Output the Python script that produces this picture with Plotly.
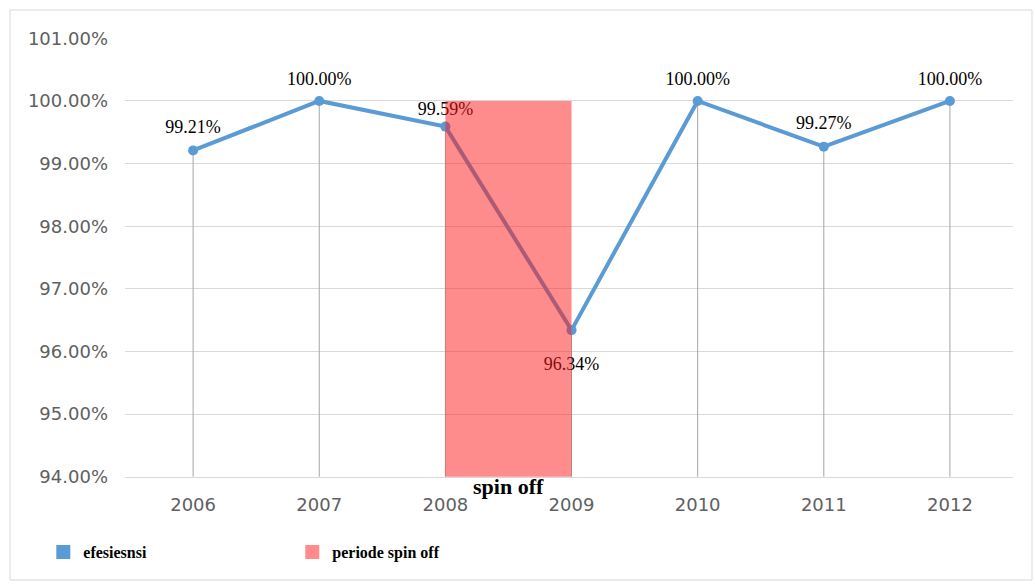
import plotly.graph_objects as go

years = ["2006", "2007", "2008", "2009", "2010", "2011", "2012"]
efisiensi = [0.9921, 1.0000, 0.9959, 0.9634, 1.0000, 0.9927, 1.0000]
label_pos = ["top center", "top center", "top center", "bottom center",
             "top center", "top center", "top center"]
spin_off_start = "2008"
spin_off_end = "2009"
spin_off_top = 1.00
y_min, y_max = 0.94, 1.01

series_name = "efesiesnsi"
period_name = "periode spin off"
period_label = "spin off"

BLUE = "#5B9BD5"
PINK = "#FF8C8C"
GRID = "#D9D9D9"
# invisible marker sizes that set each label's distance from its point
label_gap = [19, 17, 10, 40, 17, 20, 17]

fig = go.Figure()

# drop lines from each point to the axis
dx, dy = [], []
for yr, v in zip(years, efisiensi):
    dx += [yr, yr, None]
    dy += [v, y_min, None]
fig.add_trace(go.Scatter(x=dx, y=dy, mode="lines",
                         line=dict(color="#A6A6A6", width=1),
                         showlegend=False, hoverinfo="skip"))

# data labels (drawn beneath the line)
fig.add_trace(go.Scatter(
    x=years, y=efisiensi, mode="markers+text",
    marker=dict(size=label_gap, color="rgba(0,0,0,0)", opacity=0,
                line=dict(width=0)),
    text=[f"{v*100:.2f}%" for v in efisiensi],
    textposition=label_pos,
    textfont=dict(family="Liberation Serif", size=18, color="#000000"),
    showlegend=False, cliponaxis=False, hoverinfo="skip"))

fig.add_trace(go.Scatter(
    x=years, y=efisiensi, mode="lines+markers",
    line=dict(color=BLUE, width=4),
    marker=dict(color=BLUE, size=10, line=dict(width=0)),
    showlegend=False))

# legend entries
fig.add_trace(go.Scatter(x=[None], y=[None], mode="markers", name=series_name,
                         marker=dict(symbol="square", size=14, color=BLUE)))
fig.add_trace(go.Scatter(x=[None], y=[None], mode="markers", name=period_name,
                         marker=dict(symbol="square", size=14, color=PINK)))

i0 = years.index(spin_off_start)
i1 = years.index(spin_off_end)
fig.add_shape(type="rect", xref="x", yref="y", x0=i0, x1=i1,
              y0=y_min, y1=spin_off_top, layer="above",
              fillcolor="rgba(255,25,25,0.5)", line=dict(width=0))

fig.add_annotation(x=(i0 + i1) / 2, xref="x", y=-0.022, yref="paper",
                   text=f"<b>{period_label}</b>", showarrow=False,
                   font=dict(family="Liberation Serif", size=22, color="#000000"),
                   yanchor="middle")

# outer border
fig.add_shape(type="rect", xref="paper", yref="paper",
              x0=-0.1295, x1=1.0214, y0=-0.2346, y1=1.0638,
              line=dict(color=GRID, width=1), fillcolor="rgba(0,0,0,0)",
              layer="below")

fig.update_layout(
    width=1035, height=584,
    margin=dict(l=125, r=22, t=38, b=107),
    paper_bgcolor="white", plot_bgcolor="white",
    showlegend=True,
    legend=dict(orientation="h", x=-0.092, y=-0.171, xanchor="left",
                yanchor="middle", entrywidth=204, entrywidthmode="pixels",
                font=dict(family="Liberation Serif", size=16, color="#000000",
                          weight="bold"),
                bgcolor="rgba(0,0,0,0)"),
    xaxis=dict(type="category", range=[-0.54, 6.5], showgrid=False,
               showline=True, linecolor=GRID, linewidth=1,
               ticks="", ticklabelstandoff=11,
               tickfont=dict(family="DejaVu Sans", size=18, color="#606060")),
    yaxis=dict(range=[y_min - 0.00005, y_max + 0.00005], dtick=0.01,
               tick0=y_min, tickformat=".2%",
               showgrid=True, gridcolor=GRID, gridwidth=1, zeroline=False,
               ticks="", ticklabelstandoff=16,
               tickfont=dict(family="DejaVu Sans", size=18, color="#606060")),
)

fig.write_html("out.html")
